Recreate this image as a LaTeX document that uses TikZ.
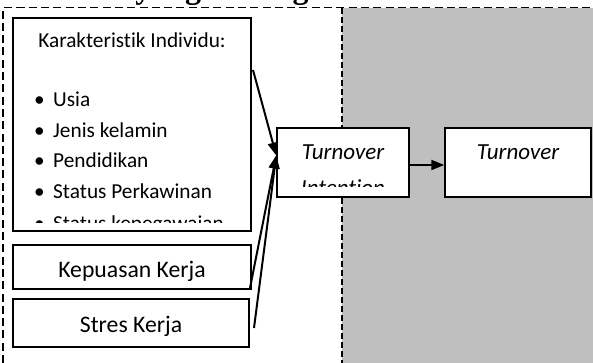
\documentclass[tikz,border=0pt]{standalone}
\usepackage{fontspec}
\setmainfont{Carlito}[Ligatures=NoCommon]
\newfontfamily\titlefont{Liberation Serif}
\usetikzlibrary{arrows.meta}
\definecolor{bggray}{RGB}{191,191,191}
\tikzset{
  box/.style={draw=black, line width=1.5pt, fill=white, rectangle, inner sep=0pt},
  listtxt/.style={font=\fontsize{21.3}{25}\selectfont, inner sep=0pt, anchor=base west},
  midtxt/.style={font=\fontsize{23.7}{28}\selectfont, inner sep=0pt, anchor=base},
  ittxt/.style={font=\fontsize{23}{28}\selectfont\itshape, inner sep=0pt, anchor=base},
  conn/.style={line width=2pt, -{Triangle[length=13pt,width=10pt]}},
  outerdash/.style={line width=1.8pt, dash pattern=on 8pt off 4.3pt},
  graydash/.style={line width=1.2pt, dash pattern=on 6pt off 3pt}
}
\begin{document}
\begin{tikzpicture}[x=1pt,y=-1pt]
\useasboundingbox (0,0) rectangle (593,363);
\clip (0,0) rectangle (593,363);
% background
\fill[bggray] (342,8.5) rectangle (593,363);
\draw[graydash] (342,8.5) -- (342,363);
\draw[outerdash] (3,363) -- (3,7.5) -- (593,7.5);
% title (clipped)
\node[font=\titlefont\bfseries\fontsize{32}{36}\selectfont, inner sep=0pt, anchor=base west] (title) at (40,-1) {Model yang Dibangun};
% boxes
\node[box, minimum width=238pt, minimum height=213pt] (kar) at (132,124.5) {};
\node[box, minimum width=238pt, minimum height=44pt] (kep) at (132,267) {};
\node[box, minimum width=236pt, minimum height=48pt] (str) at (131,323) {};
\node[box, minimum width=132pt, minimum height=69pt] (ti) at (343,162.5) {};
\node[box, minimum width=146pt, minimum height=69pt] (to) at (518,162.5) {};
% texts
\begin{scope}
\clip (13,18) rectangle (251,222);
\node[listtxt, anchor=base] (kt) at (132,48) {Karakteristik Individu:};
\node[listtxt] (b1) at (34,107) {\textbullet};
\node[listtxt] (l1) at (53,107) {Usia};
\node[listtxt] (b2) at (34,138) {\textbullet};
\node[listtxt] (l2) at (53,138) {Jenis kelamin};
\node[listtxt] (b3) at (34,168) {\textbullet};
\node[listtxt] (l3) at (53,168) {Pendidikan};
\node[listtxt] (b4) at (34,199) {\textbullet};
\node[listtxt] (l4) at (53,199) {Status Perkawinan};
\node[listtxt] (b5) at (34,230) {\textbullet};
\node[listtxt] (l5) at (53,230) {Status kepegawaian};
\end{scope}
\begin{scope}
\clip (13,245) rectangle (251,280);
\node[midtxt] (kept) at (132,277) {Kepuasan Kerja};
\end{scope}
\node[midtxt] (strt) at (131,332) {Stres Kerja};
\begin{scope}
\clip (277,128) rectangle (409,187);
\node[ittxt] (tit1) at (343,160) {Turnover};
\node[ittxt] (tit2) at (343,196) {Intention};
\end{scope}
\node[ittxt] (tot) at (518,160) {Turnover};
% connectors
\coordinate (s1) at (253,70);
\coordinate (s2) at (250,288);
\coordinate (s3) at (254,328);
\draw[conn] (s1) -- ([yshift=7pt]ti.west);
\draw[conn] (s2) -- ([yshift=7pt]ti.west);
\draw[conn] (s3) -- ([yshift=7pt]ti.west);
\draw[conn] ([yshift=-2.5pt]ti.east) -- ([yshift=-2.5pt]to.west);
\end{tikzpicture}
\end{document}
